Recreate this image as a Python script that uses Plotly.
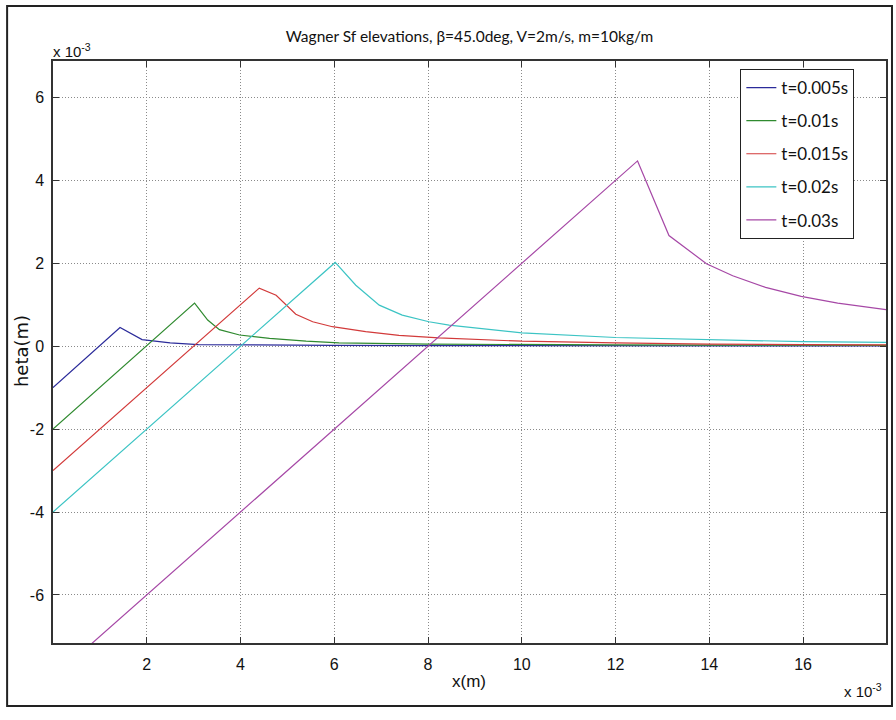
import plotly.graph_objects as go

# values in units of 1e-3 m
SCALE = 1e-3

names = ["t=0.005s", "t=0.01s", "t=0.015s", "t=0.02s", "t=0.03s"]
colors = ["#2b2b9a", "#2f8a2f", "#d23a3a", "#3cc4c4", "#a648a6"]

x_t005 = [0, 1.43, 1.90, 2.50, 3.10, 4.0, 6.0, 8.0, 10.0, 12.0, 14.0, 16.0, 17.77]
y_t005 = [-1.0, 0.45, 0.16, 0.08, 0.04, 0.03, 0.02, 0.015, 0.012, 0.01, 0.008, 0.007, 0.006]

x_t010 = [0, 3.02, 3.30, 3.55, 3.98, 4.62, 5.40, 6.10, 8.0, 10.0, 12.0, 14.0, 16.0, 17.77]
y_t010 = [-2.0, 1.04, 0.63, 0.40, 0.27, 0.19, 0.12, 0.08, 0.05, 0.035, 0.03, 0.025, 0.02, 0.02]

x_t015 = [0, 4.40, 4.76, 5.18, 5.54, 5.96, 6.67, 7.38, 8.23, 10.0, 12.0, 14.0, 16.0, 17.77]
y_t015 = [-3.0, 1.40, 1.23, 0.77, 0.59, 0.47, 0.35, 0.26, 0.20, 0.12, 0.08, 0.05, 0.04, 0.03]

x_t020 = [0, 6.02, 6.46, 6.96, 7.45, 8.02, 8.45, 10.0, 12.0, 14.0, 16.0, 17.77]
y_t020 = [-4.0, 2.02, 1.47, 0.99, 0.75, 0.59, 0.51, 0.32, 0.21, 0.16, 0.11, 0.09]

x_t030 = [0, 12.47, 13.14, 13.94, 14.50, 15.20, 15.96, 16.74, 17.77]
y_t030 = [-8.0, 4.47, 2.67, 1.99, 1.70, 1.42, 1.20, 1.04, 0.88]

xs = [x_t005, x_t010, x_t015, x_t020, x_t030]
ys = [y_t005, y_t010, y_t015, y_t020, y_t030]

x_ticks = [2, 4, 6, 8, 10, 12, 14, 16]
y_ticks = [-6, -4, -2, 0, 2, 4, 6]
x_range = [0, 17.77]
y_range = [-7.16, 6.88]

fig = go.Figure()
for n, c, xv, yv in zip(names, colors, xs, ys):
    fig.add_trace(go.Scatter(
        x=[v * SCALE for v in xv], y=[v * SCALE for v in yv],
        mode="lines", name=n, legendgroup=n,
        line=dict(color=c, width=1.2),
    ))

axis_common = dict(
    showline=True, linecolor="#333", linewidth=1.5, mirror="ticks",
    ticks="inside", ticklen=6, tickcolor="#333", tickwidth=1.2,
    showgrid=True, gridcolor="#8a8a8a", griddash="1px,2px", gridwidth=1,
    zeroline=False,
    tickfont=dict(family="Liberation Sans, Arial", size=16, color="#111"),
)

fig.update_xaxes(
    range=[v * SCALE for v in x_range],
    tickvals=[v * SCALE for v in x_ticks], ticktext=[str(v) for v in x_ticks],
    ticklabelstandoff=6,
    **axis_common,
)
fig.update_yaxes(
    range=[v * SCALE for v in y_range],
    tickvals=[v * SCALE for v in y_ticks], ticktext=[str(v) for v in y_ticks],
    ticklabelstandoff=4,
    **axis_common,
)

L, R, T, B = 53, 8, 61, 77
W, H = 896, 720
pw, ph = W - L - R, H - T - B

def px(xp):
    return (xp - L) / pw

def py(yp):
    return (H - B - yp) / ph

fig.update_layout(
    width=W, height=H,
    margin=dict(l=L, r=R, t=T, b=B),
    paper_bgcolor="white", plot_bgcolor="white",
    showlegend=True,
    legend=dict(
        x=px(742), y=py(69), xanchor="left", yanchor="top",
        bordercolor="#222", borderwidth=1, bgcolor="white",
        font=dict(family="Lato, Carlito, Calibri", size=17, color="#111"),
        tracegroupgap=8, itemwidth=30,
    ),
    title=dict(
        text="Wagner Sf elevations, β=45.0deg, V=2m/s, m=10kg/m",
        x=0.5, xref="paper", xanchor="center",
        y=1 - 37 / H, yref="container", yanchor="middle",
        font=dict(family="Lato, Carlito, Calibri", size=15.5, color="#111"),
    ),
    annotations=[
        dict(text="x 10<sup>-3</sup>", xref="paper", yref="paper",
             x=px(51), y=py(50), xanchor="left", yanchor="middle", showarrow=False,
             font=dict(family="Liberation Sans, Arial", size=15, color="#111")),
        dict(text="x 10<sup>-3</sup>", xref="paper", yref="paper",
             x=px(886), y=py(690), xanchor="right", yanchor="middle", showarrow=False,
             font=dict(family="Liberation Sans, Arial", size=15, color="#111")),
        dict(text="x(m)", xref="paper", yref="paper",
             x=px(470), y=py(681), xanchor="center", yanchor="middle", showarrow=False,
             font=dict(family="Liberation Sans, Arial", size=17, color="#111")),
        dict(text="heta(m)", xref="paper", yref="paper", textangle=-90,
             x=px(21), y=py(351), xanchor="center", yanchor="middle", showarrow=False,
             font=dict(family="DejaVu Sans", size=18, color="#111")),
    ],
    shapes=[
        dict(type="rect", xref="paper", yref="paper",
             x0=px(7), x1=px(894), y0=py(706), y1=py(6),
             line=dict(color="#222", width=2), fillcolor="rgba(0,0,0,0)",
             layer="below"),
    ],
)

fig.write_html("out.html")
